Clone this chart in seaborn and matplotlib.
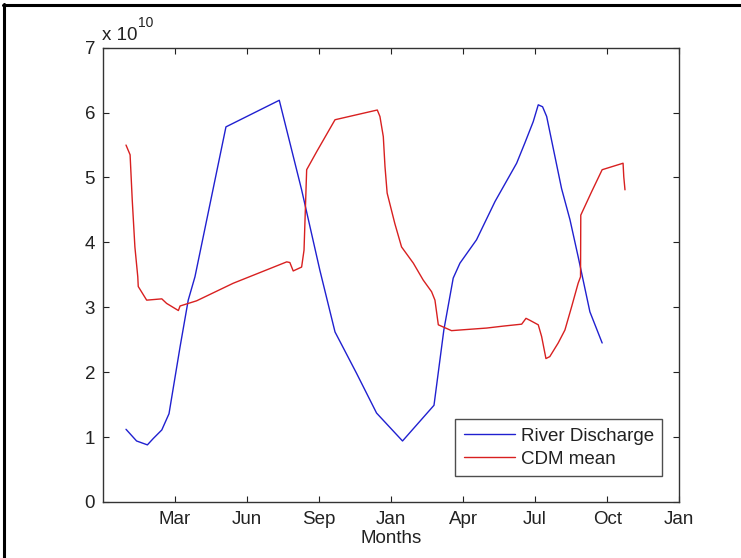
import matplotlib
matplotlib.use("Agg")
import matplotlib.pyplot as plt
from matplotlib.lines import Line2D
import seaborn as sns
import pandas as pd

# ---- data (x in months from the left axis edge, y in units of 1e10) ----
river_x = [0.97, 1.41, 1.86, 2.11, 2.46, 2.76, 3.22, 3.56, 3.84, 5.13, 7.35, 8.28,
           9.04, 9.67, 10.57, 11.40, 12.48, 13.79, 14.20, 14.59, 14.87, 15.56, 16.33,
           17.23, 17.57, 17.92, 18.13, 18.31, 18.48, 19.10, 19.45, 19.79, 20.28, 20.79]
river_y = [1.12, 0.94, 0.88, 0.98, 1.11, 1.36, 2.39, 3.11, 3.47, 5.78, 6.19, 4.81,
           3.57, 2.62, 1.98, 1.37, 0.94, 1.49, 2.65, 3.45, 3.68, 4.04, 4.63,
           5.22, 5.53, 5.86, 6.12, 6.09, 5.94, 4.83, 4.35, 3.78, 2.93, 2.45]

cdm_x = [0.97, 1.14, 1.23, 1.34, 1.46, 1.48, 1.83, 2.46, 2.66, 3.15, 3.22, 3.91,
         5.43, 7.66, 7.79, 7.93, 8.28, 8.38, 8.49, 8.91, 9.67, 11.43, 11.54, 11.68,
         11.75, 11.84, 12.16, 12.44, 12.93, 13.34, 13.69, 13.83, 13.97, 14.52, 14.87,
         15.98, 16.67, 17.44, 17.62, 17.78, 18.13, 18.27, 18.45, 18.61, 18.96, 19.24,
         19.52, 19.79, 19.89, 19.90, 20.35, 20.79, 21.66, 21.69, 21.74]
cdm_y = [5.50, 5.35, 4.65, 3.93, 3.47, 3.32, 3.11, 3.13, 3.06, 2.95, 3.02, 3.10,
         3.37, 3.70, 3.69, 3.56, 3.62, 3.88, 5.12, 5.40, 5.89, 6.04, 5.94, 5.63,
         5.17, 4.76, 4.29, 3.93, 3.68, 3.42, 3.24, 3.11, 2.73, 2.64, 2.65,
         2.68, 2.71, 2.74, 2.83, 2.80, 2.73, 2.55, 2.21, 2.24, 2.45, 2.65,
         3.01, 3.37, 3.47, 4.42, 4.78, 5.12, 5.22, 5.01, 4.81]

xtick_pos = [3, 6, 9, 12, 15, 18, 21, 24]
xtick_labels = ["Mar", "Jun", "Sep", "Jan", "Apr", "Jul", "Oct", "Jan"]
ytick_pos = [0, 1, 2, 3, 4, 5, 6, 7]

df = pd.concat([
    pd.DataFrame({"x": river_x, "y": river_y, "series": "River Discharge"}),
    pd.DataFrame({"x": cdm_x, "y": cdm_y, "series": "CDM mean"}),
], ignore_index=True)

sns.set_theme(style="white")
plt.rcParams["font.family"] = ["Liberation Sans", "DejaVu Sans"]

FS = 13.5

fig = plt.figure(figsize=(7.41, 5.58), dpi=100)
ax = fig.add_axes([0.1386, 0.1004, 0.7781, 0.8141])

sns.lineplot(data=df, x="x", y="y", hue="series", sort=False, estimator=None,
             palette={"River Discharge": "#2020d0", "CDM mean": "#d82020"},
             linewidth=1.0, ax=ax)

ax.set_xlim(0, 24)
ax.set_ylim(0, 7)
ax.set_xticks(xtick_pos)
ax.set_xticklabels(xtick_labels)
ax.set_yticks(ytick_pos)
ax.set_yticklabels([str(v) for v in ytick_pos])
ax.tick_params(axis="both", which="both", direction="in", length=4.2, width=0.8,
               top=True, right=True, bottom=True, left=True, labelsize=FS,
               colors="#222222", labelcolor="#222222")
ax.tick_params(axis="x", pad=6.5)
ax.tick_params(axis="y", pad=5.5)
for s in ax.spines.values():
    s.set_visible(True)
    s.set_color("#333333")
    s.set_linewidth(1.0)

ax.set_xlabel("Months", fontsize=FS, color="#222222", labelpad=1.5)
ax.set_ylabel("")

ax.text(-0.002, 1.008, "x 10", transform=ax.transAxes, fontsize=FS, color="#222222",
        ha="left", va="bottom")
ax.text(0.061, 1.038, "10", transform=ax.transAxes, fontsize=10, color="#222222",
        ha="left", va="bottom")

handles, labels = ax.get_legend_handles_labels()
leg = ax.legend(handles, labels, loc="lower right", bbox_to_anchor=(0.9705, 0.0572),
                borderaxespad=0, fontsize=FS, frameon=True, fancybox=False,
                edgecolor="#222222", handlelength=2.75, handletextpad=0.3,
                labelspacing=0.3, borderpad=0.45)
leg.get_frame().set_linewidth(1.0)
for t in leg.get_texts():
    t.set_color("#222222")

# page border (top and left only)
fig.add_artist(Line2D([0.004, 1.0], [0.9915, 0.9915], transform=fig.transFigure,
                      color="black", linewidth=2.2))
fig.add_artist(Line2D([0.0059, 0.0059], [0.0, 0.993], transform=fig.transFigure,
                      color="black", linewidth=2.2))

fig.savefig("out.png", dpi=100)
